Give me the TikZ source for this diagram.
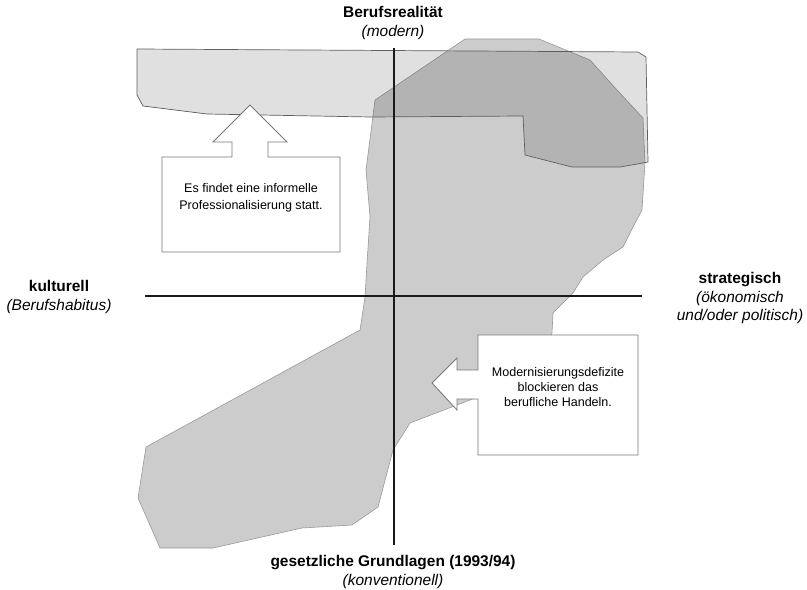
\documentclass[tikz,border=0pt]{standalone}
\usepackage{fontspec}
\setmainfont{Liberation Sans}
\usetikzlibrary{positioning}
\definecolor{colArea}{RGB}{204,204,204}
\definecolor{colAreaLine}{RGB}{150,150,150}
\definecolor{colBandLine}{RGB}{95,95,95}
\definecolor{colBorder}{RGB}{120,120,120}
\definecolor{colAxis}{RGB}{25,25,25}
\tikzset{
  area/.style={fill=colArea, draw=colAreaLine, line width=0.4pt},
  band/.style={fill=black, fill opacity=0.12, draw=colBandLine, line width=0.5pt},
  axis/.style={line width=1.5pt, color=colAxis},
  callout/.style={fill=white, draw=colBorder, line width=0.6pt, line join=miter},
  poleLabel/.style={font=\fontsize{11}{13.2}\selectfont, align=center, inner sep=0pt},
  calloutText/.style={font=\fontsize{8.9}{11}\selectfont, align=center, inner sep=0pt},
}

\begin{document}
\begin{tikzpicture}[x=0.025cm, y=-0.025cm]
\useasboundingbox (0,0) rectangle (807,590);

% ---- Areas ------------------------------------------------------
\draw[area] (375,100) -- (465,39) -- (539,39) -- (590,60) -- (617,90) -- (643,118)
  -- (645,163) -- (642,210) -- (633,227) -- (623,247) -- (603,260) -- (583,277)
  -- (573,293) -- (553,313) -- (552,333) -- (545,370) -- (470,400) -- (410,423)
  -- (393,450) -- (378,507) -- (352,525) -- (302,528) -- (213,548) -- (160,548)
  -- (138,498) -- (146,447) -- (360,330) -- (365,297) -- (367,263) -- (370,217)
  -- (366,170) -- cycle;

\draw[band] (137,49) -- (638,52) -- (646,57) -- (648,162) -- (643,163) -- (620,167)
  -- (572,167) -- (525,155) -- (523,116) -- (370,117) -- (207,114) -- (143,106)
  -- (137,95) -- cycle;

% ---- Axes -------------------------------------------------------
\coordinate (axN) at (394,48);
\coordinate (axS) at (394,545);
\coordinate (axW) at (145,296);
\coordinate (axE) at (642,296);
\draw[axis] (axW) -- (axE);
\draw[axis] (axN) -- (axS);

% ---- Callouts ---------------------------------------------------
\draw[callout] (162,157) -- (232,157) -- (232,142) -- (213,142) -- (250,105)
  -- (287,142) -- (268,142) -- (268,157) -- (340,157) -- (340,252) -- (162,252) -- cycle;
\node[calloutText, font=\fontsize{8.9}{12}\selectfont] (infoUp) at (251,198)
  {Es findet eine informelle\\Professionalisierung statt.};

\draw[callout] (478,335) -- (638,335) -- (638,455) -- (478,455) -- (478,399)
  -- (457,399) -- (457,410) -- (432,383) -- (457,358) -- (457,370) -- (478,370) -- cycle;
\node[calloutText] (infoLeft) at (558,387)
  {Modernisierungsdefizite\\blockieren das\\berufliche Handeln.};

% ---- Pole labels ------------------------------------------------
\node[poleLabel] (poleN) at (393,23) {\textbf{Berufsrealität}\\\textit{(modern)}};
\node[poleLabel] (poleS) at (393,572) {\textbf{gesetzliche Grundlagen (1993/94)}\\\textit{(konventionell)}};
\node[poleLabel] (poleW) at (59,297) {\textbf{kulturell}\\\textit{(Berufshabitus)}};
\node[poleLabel] (poleE) at (740,298) {\textbf{strategisch}\\\textit{(ökonomisch}\\\textit{und/oder politisch)}};

\end{tikzpicture}
\end{document}
